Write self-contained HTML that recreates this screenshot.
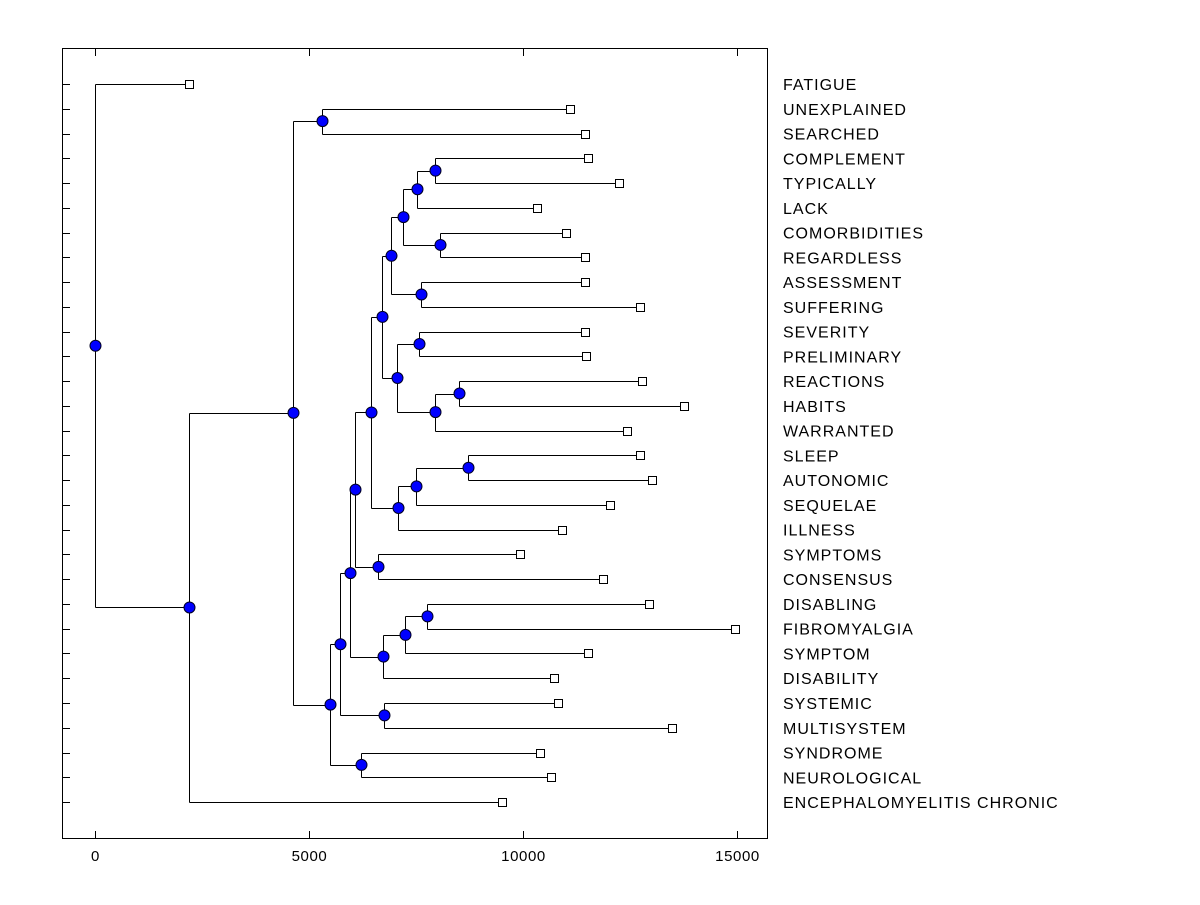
<!DOCTYPE html>
<html><head><meta charset="utf-8"><style>
html,body{margin:0;padding:0;background:#fff;}
svg text{font-family:"Liberation Sans",Arial,sans-serif;}
</style></head><body>
<svg id="chart" width="1200" height="900" viewBox="0 0 1200 900" xmlns="http://www.w3.org/2000/svg">
<rect x="0" y="0" width="1200" height="900" fill="#fff"/>
<rect x="62.5" y="48.5" width="705" height="790" fill="none" stroke="#000" stroke-width="1"/>
<g id="axes"></g><g id="tree"></g><g id="labels"></g>
</svg>
<script>
const leafLabels = ["FATIGUE","UNEXPLAINED","SEARCHED","COMPLEMENT","TYPICALLY","LACK","COMORBIDITIES","REGARDLESS","ASSESSMENT","SUFFERING","SEVERITY","PRELIMINARY","REACTIONS","HABITS","WARRANTED","SLEEP","AUTONOMIC","SEQUELAE","ILLNESS","SYMPTOMS","CONSENSUS","DISABLING","FIBROMYALGIA","SYMPTOM","DISABILITY","SYSTEMIC","MULTISYSTEM","SYNDROME","NEUROLOGICAL","ENCEPHALOMYELITIS CHRONIC"];
const leafValues = [2207,11110,11460,11530,12250,10340,11010,11460,11460,12740,11460,11480,12790,13770,12420,12740,13020,12040,10920,9940,11860,12950,14940,11530,10730,10830,13490,10410,10660,9520];
const mergeLeft  = [3,30,6,31,8,33,10,12,37,36,35,15,41,42,40,19,44,21,47,48,46,25,50,27,52,1,55,56,0];
const mergeRight = [4,5,7,32,9,34,11,13,14,38,39,16,17,18,43,20,45,22,23,24,49,26,51,28,53,2,54,29,57];
const mergeHeight= [7950,7530,8070,7210,7630,6930,7580,8520,7950,7070,6720,8720,7510,7090,6460,6620,6090,7770,7250,6740,5970,6760,5740,6230,5500,5310,4640,2207,0];
const xTicks = [0,5000,10000,15000];

const NS="http://www.w3.org/2000/svg";
const xs = v => 94.5 + v*(214.2/5000);
const rowY = i => 84 + i*24.76;
function mk(tag, attrs, parent){const e=document.createElementNS(NS,tag);for(const k in attrs)e.setAttribute(k,attrs[k]);parent.appendChild(e);return e;}
const axes=document.getElementById('axes'), tree=document.getElementById('tree'), labels=document.getElementById('labels');

xTicks.forEach(t=>{
  const x=Math.round(xs(t))+0.5;
  let e=mk('line',{x1:x,x2:x,y1:48.5,y2:56,stroke:'#000'},axes);
  
  
  e=mk('line',{x1:x,x2:x,y1:831,y2:838.5,stroke:'#000'},axes);
  
  
  e=mk('text',{x:x,y:861,'font-size':'15','letter-spacing':'0.6','text-anchor':'middle',fill:'#000'},axes);
  e.textContent=t;
  
  
});
leafLabels.forEach((lab,i)=>{
  const y=Math.round(rowY(i))+0.5;
  let e=mk('line',{x1:62.5,x2:70,y1:y,y2:y,stroke:'#000'},axes);
  
  
  e=mk('text',{x:783,y:rowY(i)+6,'font-size':'16','letter-spacing':'1',fill:'#000'},labels);
  e.textContent=lab;
  
  
});

const n=leafLabels.length;
const nodeY=[], nodeV=[];
for(let i=0;i<n;i++){nodeY[i]=rowY(i);nodeV[i]=leafValues[i];}
const lineG=mk('g',{},tree), markG=mk('g',{},tree);
for(let k=0;k<mergeHeight.length;k++){
  const a=mergeLeft[k], b=mergeRight[k], h=mergeHeight[k], id=n+k;
  nodeV[id]=h; nodeY[id]=(nodeY[a]+nodeY[b])/2;
  const x=Math.round(xs(h))+0.5;
  let e=mk('line',{x1:x,x2:x,y1:Math.round(nodeY[a])+0.5,y2:Math.round(nodeY[b])+0.5,stroke:'#000'},lineG);
  
  
  [a,b].forEach(c=>{
    const y=Math.round(nodeY[c])+0.5;
    const e2=mk('line',{x1:x,x2:Math.round(xs(nodeV[c]))+0.5,y1:y,y2:y,stroke:'#000'},lineG);
    
    
  });
  e=mk('circle',{cx:x,cy:nodeY[id],r:5.5,fill:'#0000ff',stroke:'#000022','stroke-width':1},markG);
  
  
}
for(let i=0;i<n;i++){
  const x=Math.round(xs(leafValues[i])), y=Math.round(rowY(i));
  const e=mk('rect',{x:x-3.5,y:y-3.5,width:8,height:8,fill:'#fff',stroke:'#000'},markG);
  
  
}
</script>
</body></html>
